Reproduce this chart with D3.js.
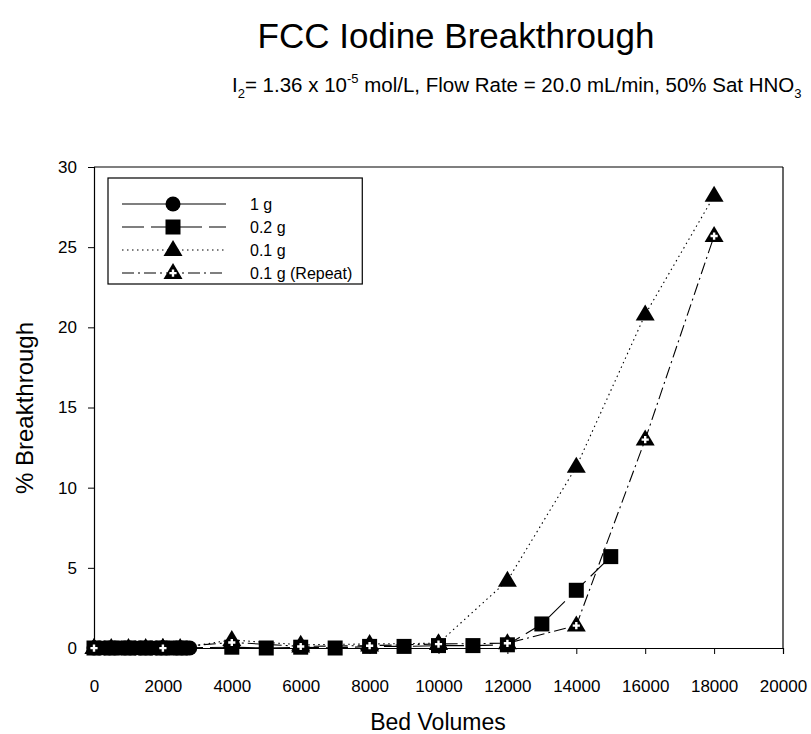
<!DOCTYPE html>
<html><head><meta charset="utf-8">
<script src="https://cdn.jsdelivr.net/npm/d3@7"></script>
<style>body{margin:0;background:#fff;}svg{display:block;font-family:"Liberation Sans",Arial,sans-serif;}</style>
</head><body><svg id="c" width="811" height="734"></svg>
<script>
const xTicks = [0,2000,4000,6000,8000,10000,12000,14000,16000,18000,20000];
const yTicks = [0,5,10,15,20,25,30];
const seriesNames = ["1 g","0.2 g","0.1 g","0.1 g (Repeat)"];
const bv1g = [0,150,300,450,600,750,900,1050,1200,1350,1500,1650,1800,1950,2100,2250,2400,2550,2700,2780];
const pct1g = [0,0,0,0,0,0,0,0,0,0,0,0,0,0,0,0,0,0,0,0];
const bv02 = [0,500,1000,1500,2000,2500,4000,5000,6000,7000,8000,9000,10000,11000,12000,13000,14000,15000];
const pct02 = [0,0,0,0,0,0,0.05,0,0.05,0,0.1,0.1,0.15,0.15,0.2,1.5,3.6,5.7];
const bv01 = [0,500,1000,1500,2000,2500,4000,6000,8000,10000,12000,14000,16000,18000];
const pct01 = [0,0,0,0,0,0,0.5,0.2,0.25,0.3,4.2,11.3,20.8,28.2];
const bv01r = [0,2000,4000,6000,8000,10000,12000,14000,16000,18000];
const pct01r = [0,0,0.35,0.1,0.15,0.25,0.3,1.4,13.0,25.7];

const svg = d3.select("#c");
const x = d3.scaleLinear().domain([0,20000]).range([94,783]);
const y = d3.scaleLinear().domain([0,30]).range([648,167]);

svg.append("line").attr("x1",94).attr("x2",783).attr("y1",167).attr("y2",167).attr("stroke","#000").attr("stroke-width",1.2);
svg.append("line").attr("x1",783).attr("x2",783).attr("y1",167).attr("y2",648).attr("stroke","#000").attr("stroke-width",1.2);

const xa = svg.append("g").attr("transform","translate(0,648)")
  .call(d3.axisBottom(x).tickValues(xTicks).tickSize(6).tickPadding(26).tickFormat(d3.format("d")));
const ya = svg.append("g").attr("transform","translate(94,0)")
  .call(d3.axisLeft(y).tickValues(yTicks).tickSize(6).tickPadding(11));
[xa,ya].forEach(a=>{a.select(".domain").attr("stroke","#000").attr("stroke-width",1.2);
  a.selectAll(".tick line").attr("stroke","#000");
  a.selectAll("text").attr("font-size",17).attr("fill","#000").attr("font-family","Liberation Sans, Arial, sans-serif");});

const series = [
  {name:seriesNames[0], xs:bv1g, ys:pct1g, dash:null, marker:"circle"},
  {name:seriesNames[1], xs:bv02, ys:pct02, dash:"22,7", marker:"square"},
  {name:seriesNames[2], xs:bv01, ys:pct01, dash:"1.5,3.5", marker:"triangle"},
  {name:seriesNames[3], xs:bv01r, ys:pct01r, dash:"12,4,2,4", marker:"tricross"}
];

function drawMarker(g, type, cx, cy){
  if(type==="circle") g.append("circle").attr("cx",cx).attr("cy",cy).attr("r",7.5).attr("fill","#000");
  else if(type==="square") g.append("rect").attr("x",cx-7.5).attr("y",cy-7.5).attr("width",15).attr("height",15).attr("fill","#000");
  else {
    g.append("path").attr("d",`M${cx},${cy-10}L${cx+9.5},${cy+6}L${cx-9.5},${cy+6}Z`).attr("fill","#000");
    if(type==="tricross"){
      g.append("path").attr("d",`M${cx-1.2},${cy-3.5}h2.4v2.4h2.4v2.4h-2.4v2.4h-2.4v-2.4h-2.4v-2.4h2.4Z`).attr("fill","#fff");
    }
  }
}

const line = d3.line();
series.forEach(s=>{
  const pts = s.xs.map((v,i)=>[x(v), y(s.ys[i])]);
  svg.append("path").attr("d",line(pts)).attr("fill","none").attr("stroke","#000").attr("stroke-width",1.1)
    .attr("stroke-dasharray",s.dash);
  const g = svg.append("g");
  pts.forEach(p=>drawMarker(g,s.marker,p[0],p[1]));
});

// legend
const lg = svg.append("g");
const box = lg.append("rect").attr("x",108).attr("y",178).attr("height",106).attr("fill","#fff").attr("stroke","#000").attr("stroke-width",1.2);
let maxW = 0;
series.forEach((s,i)=>{
  const yy = 204 + i*23;
  lg.append("line").attr("x1",122).attr("x2",226).attr("y1",yy).attr("y2",yy).attr("stroke","#000").attr("stroke-width",1.1).attr("stroke-dasharray",s.dash);
  drawMarker(lg,s.marker,173,yy);
  const t = lg.append("text").attr("x",250).attr("y",yy+6).attr("font-size",16).text(s.name);
  maxW = Math.max(maxW, t.node().getComputedTextLength());
});
box.attr("width", 250 + maxW + 10 - 108);

// titles
svg.append("text").attr("x",456).attr("y",48).attr("text-anchor","middle").attr("font-size",35).text("FCC Iodine Breakthrough");
const st = svg.append("text").attr("x",232).attr("y",92).attr("font-size",20.5);
st.append("tspan").text("I");
st.append("tspan").attr("dy",6).attr("font-size",13).text("2");
st.append("tspan").attr("dy",-6).text("= 1.36 x 10");
st.append("tspan").attr("dy",-9).attr("font-size",13).text("-5");
st.append("tspan").attr("dy",9).text(" mol/L, Flow Rate = 20.0 mL/min, 50% Sat HNO");
st.append("tspan").attr("dy",6).attr("font-size",13).text("3");

svg.append("text").attr("x",438).attr("y",730).attr("text-anchor","middle").attr("font-size",23).text("Bed Volumes");
svg.append("text").attr("transform","translate(33,408) rotate(-90)").attr("text-anchor","middle").attr("font-size",24).text("% Breakthrough");
</script></body></html>
